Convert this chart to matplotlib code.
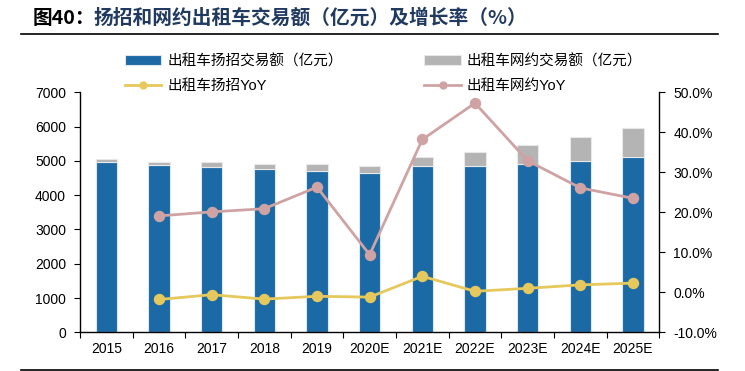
import matplotlib
matplotlib.use("Agg")
import matplotlib.pyplot as plt
from matplotlib.lines import Line2D
import numpy as np

plt.rcParams['font.family'] = ['Liberation Sans', 'Noto Sans CJK SC', 'DejaVu Sans']

years = ['2015', '2016', '2017', '2018', '2019', '2020E', '2021E', '2022E', '2023E', '2024E', '2025E']
street_hail = [4975, 4870, 4830, 4765, 4705, 4645, 4840, 4850, 4910, 5000, 5105]
online_hail = [80, 105, 140, 145, 195, 215, 275, 420, 550, 685, 855]
street_yoy = [np.nan, -1.8, -0.6, -1.7, -1.0, -1.2, 4.0, 0.25, 1.0, 1.85, 2.3]
online_yoy = [np.nan, 19.1, 20.1, 20.9, 26.3, 9.4, 38.2, 47.3, 32.9, 26.1, 23.5]

left_ticks = [0, 1000, 2000, 3000, 4000, 5000, 6000, 7000]
right_ticks = [-10, 0, 10, 20, 30, 40, 50]

C_BLUE = '#1B6AA5'
C_GRAY = '#B4B4B4'
C_YEL = '#E6C85C'
C_PINK = '#CFA3A3'
FS = 10

fig = plt.figure(figsize=(7.45, 3.71), dpi=100)
ax = fig.add_axes([80/745, 1-332.3/371, (659.3-80)/745, (332.3-92.3)/371])
x = np.arange(len(years))
bw = 0.4
b1 = ax.bar(x, street_hail, width=bw, color=C_BLUE, edgecolor='#DDE7F2', linewidth=0.8, zorder=2)
b2 = ax.bar(x, online_hail, width=bw, bottom=street_hail, color=C_GRAY, edgecolor='#E8E8E8', linewidth=0.8, zorder=2)
ax.set_xlim(-0.5, len(years)-0.5)
ax.set_ylim(0, 7000)
ax.set_yticks(left_ticks)
ax.set_yticklabels([str(v) for v in left_ticks], fontsize=FS)
ax.set_xticks(x)
ax.set_xticklabels(years, fontsize=FS)
ax.set_xticks(np.arange(len(years)+1)-0.5, minor=True)
ax.tick_params(axis='x', which='major', length=0, pad=7)
ax.tick_params(axis='x', which='minor', length=4, width=0.8, direction='out')
ax.tick_params(axis='y', length=4, width=0.8, direction='out', pad=6)
for s in ['top', 'right']:
    ax.spines[s].set_visible(False)
for s in ['left', 'bottom']:
    ax.spines[s].set_linewidth(1.0)

ax2 = ax.twinx()
ax2.set_ylim(-10, 50)
ax2.set_yticks(right_ticks)
ax2.set_yticklabels([f'{v:.1f}%' for v in right_ticks], fontsize=FS)
ax2.tick_params(axis='y', length=4, width=0.8, direction='out', pad=6)
for s in ['top', 'left', 'bottom']:
    ax2.spines[s].set_visible(False)
ax2.spines['right'].set_linewidth(1.0)
l1, = ax2.plot(x, street_yoy, color=C_YEL, lw=2, marker='o', ms=7.2, zorder=3)
l2, = ax2.plot(x, online_yoy, color=C_PINK, lw=2, marker='o', ms=7.2, zorder=3)

lh1 = Line2D([], [], color=C_YEL, lw=2, marker='o', ms=5)
lh2 = Line2D([], [], color=C_PINK, lw=2, marker='o', ms=5)
leg = fig.legend([b1, lh1, b2, lh2],
                 ['出租车扬招交易额（亿元）', '出租车扬招YoY', '出租车网约交易额（亿元）', '出租车网约YoY'],
                 ncol=2, loc='upper left', bbox_to_anchor=(125/745, 1-54/371),
                 frameon=False, handlelength=2.5, handleheight=0.7,
                 columnspacing=5.6, labelspacing=0.75, handletextpad=0.4, borderpad=0, borderaxespad=0,
                 prop={'family': ['Liberation Sans', 'Noto Sans CJK SC', 'DejaVu Sans'], 'size': 10.5})

fig.text(33/745, 1-18/371, '图40：', fontsize=14.2, fontweight='bold', color='black',
         va='center', ha='left', family=['Noto Sans CJK SC', 'DejaVu Sans'])
fig.text(93/745, 1-18/371, '扬招和网约出租车交易额（亿元）及增长率（%）', fontsize=14.2, fontweight='bold',
         color='#213A60', va='center', ha='left', family=['Noto Sans CJK SC', 'DejaVu Sans'])
fig.add_artist(Line2D([20.7/745, 718/745], [1-33.5/371, 1-33.5/371], color='black', lw=1.2))
fig.add_artist(Line2D([20.7/745, 718/745], [1-370/371, 1-370/371], color='black', lw=1.2))

fig.savefig('out.png', dpi=100)
